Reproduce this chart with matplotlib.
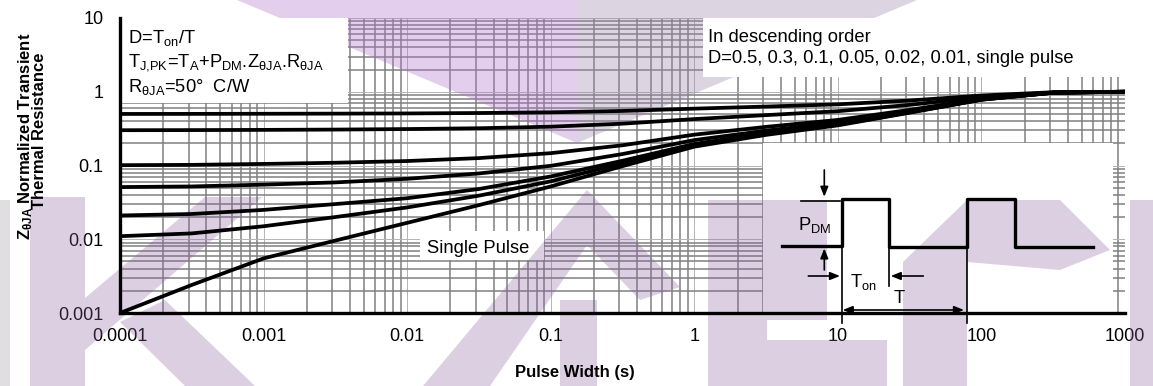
import numpy as np
import matplotlib
matplotlib.use('Agg')
import matplotlib.pyplot as plt
from matplotlib import rc
from matplotlib.patches import Rectangle, Polygon

rc('font', **{'family': 'Liberation Sans', 'size': 13})
rc('mathtext', **{'default': 'regular'})

# pulse width (s), read at half decades
pulse = [1e-4, 3.16e-4, 1e-3, 3.16e-3, 1e-2, 3.16e-2, 0.1, 0.316,
         1, 3.16, 10, 31.6, 100, 316, 1000]

# normalized Z_thJA for each duty cycle
z_d50 = [0.50, 0.501, 0.503, 0.505, 0.508, 0.515, 0.526, 0.549, 0.59, 0.63, 0.675, 0.76, 0.89, 0.985, 1.0]
z_d30 = [0.301, 0.302, 0.304, 0.307, 0.312, 0.320, 0.336, 0.369, 0.426, 0.482, 0.545, 0.664, 0.846, 0.979, 1.0]
z_d10 = [0.101, 0.102, 0.105, 0.109, 0.115, 0.126, 0.147, 0.188, 0.262, 0.334, 0.415, 0.568, 0.80, 0.973, 1.0]
z_d05 = [0.051, 0.052, 0.055, 0.059, 0.066, 0.078, 0.099, 0.143, 0.221, 0.297, 0.383, 0.544, 0.791, 0.972, 1.0]
z_d02 = [0.021, 0.022, 0.025, 0.030, 0.036, 0.048, 0.071, 0.116, 0.196, 0.275, 0.363, 0.530, 0.784, 0.971, 1.0]
z_d01 = [0.011, 0.012, 0.015, 0.020, 0.027, 0.039, 0.061, 0.107, 0.188, 0.267, 0.357, 0.525, 0.782, 0.970, 1.0]
z_single = [0.001, 0.0024, 0.0055, 0.0096, 0.0167, 0.029, 0.052, 0.098, 0.18, 0.26, 0.35, 0.52, 0.78, 0.97, 1.0]

curves = [z_d50, z_d30, z_d10, z_d05, z_d02, z_d01, z_single]

xticks = [1e-4, 1e-3, 1e-2, 0.1, 1, 10, 100, 1000]
xticklabels = ['0.0001', '0.001', '0.01', '0.1', '1', '10', '100', '1000']
yticks = [1e-3, 1e-2, 0.1, 1, 10]
yticklabels = ['0.001', '0.01', '0.1', '1', '10']

W, H = 1153, 386
fig = plt.figure(figsize=(W/100, H/100), dpi=100)
ax = fig.add_axes([120/W, 1-313/H, 1005/W, 295/H])

ax.set_xscale('log')
ax.set_yscale('log')
ax.set_xlim(1e-4, 1000)
ax.set_ylim(1e-3, 10)

for sp in ['top', 'right']:
    ax.spines[sp].set_visible(False)
for sp in ['left', 'bottom']:
    ax.spines[sp].set_linewidth(2.4)
    ax.spines[sp].set_zorder(6)

ax.set_xticks(xticks)
ax.set_xticklabels(xticklabels)
ax.set_yticks(yticks)
ax.set_yticklabels(yticklabels)
ax.set_xticks([m * t for t in xticks[:-1] for m in range(2, 10)], minor=True)
ax.set_yticks([m * t for t in yticks[:-1] for m in range(2, 10)], minor=True)
ax.tick_params(which='both', length=0)
ax.tick_params(axis='x', pad=11)
ax.tick_params(axis='y', pad=12)

ax.grid(which='minor', color='#808080', lw=1.1)
ax.grid(which='major', color='#b4b4b4', lw=0.7)

# white boxes over the grid (the two top ones also hide the watermark)
boxes = [(0.0, 0.712, 0.227, 0.288, 2.0), (0.580, 0.80, 0.42, 0.20, 2.0),
         (0.2985, 0.178, 0.1235, 0.10, 1.6), (0.6398, 0.0, 0.348, 0.576, 1.6)]
for bx, by, bw, bh, zo in boxes:
    ax.add_patch(Rectangle((bx, by), bw, bh, transform=ax.transAxes,
                           facecolor='white', edgecolor='none', zorder=zo))

for z in curves:
    ax.plot(pulse, z, color='k', lw=2.7, zorder=4, solid_capstyle='butt')

T = ax.transAxes
fs = 13.2
ax.text(0.008, 0.916, 'D=T$_{on}$/T', transform=T, fontsize=fs, zorder=5)
ax.text(0.008, 0.835, 'T$_{J{,}PK}$=T$_A$+P$_{DM}$.Z$_{θJA}$.R$_{θJA}$', transform=T, fontsize=fs, zorder=5)
ax.text(0.008, 0.750, 'R$_{θJA}$=50°  C/W', transform=T, fontsize=fs, zorder=5)
ax.text(0.585, 0.920, 'In descending order', transform=T, fontsize=fs, zorder=5)
ax.text(0.585, 0.848, 'D=0.5, 0.3, 0.1, 0.05, 0.02, 0.01, single pulse', transform=T, fontsize=fs, zorder=5)
ax.text(0.3052, 0.204, 'Single Pulse', transform=T, fontsize=fs, zorder=5)

# pulse train sketch
px = [0.6587, 0.7181, 0.7181, 0.7655, 0.7655, 0.8431, 0.8431, 0.8905, 0.8905, 0.9682]
py = [0.2281, 0.2281, 0.3864, 0.3864, 0.2227, 0.2227, 0.3864, 0.3864, 0.2227, 0.2227]
ax.plot(px, py, transform=T, color='k', lw=2.4, zorder=5, clip_on=False)
thin = dict(transform=T, color='k', lw=1.2, zorder=5, clip_on=False)
ax.plot([0.7181, 0.7181], [0.2281, -0.034], **thin)
ax.plot([0.7655, 0.7655], [0.2227, 0.092], **thin)
ax.plot([0.8431, 0.8431], [0.2227, -0.034], **thin)
ax.plot([0.678, 0.716], [0.3807, 0.3807], **thin)

arr = dict(arrowstyle='-|>,head_width=0.18,head_length=0.45', color='k', lw=1.2,
           shrinkA=0, shrinkB=0)
ax.annotate('', xy=(0.7008, 0.394), xytext=(0.7008, 0.485), xycoords=T, arrowprops=arr, zorder=5)
ax.annotate('', xy=(0.7008, 0.219), xytext=(0.7008, 0.146), xycoords=T, arrowprops=arr, zorder=5)
ax.annotate('', xy=(0.7164, 0.1254), xytext=(0.6849, 0.1254), xycoords=T, arrowprops=arr, zorder=5)
ax.annotate('', xy=(0.7669, 0.1254), xytext=(0.7993, 0.1254), xycoords=T, arrowprops=arr, zorder=5)
arr2 = dict(arrowstyle='<|-|>,head_width=0.18,head_length=0.45', color='k', lw=1.2,
            shrinkA=0, shrinkB=0)
ax.annotate('', xy=(0.8398, 0.0102), xytext=(0.7191, 0.0102), xycoords=T, arrowprops=arr2, zorder=5)
ax.text(0.6915, 0.2983, 'P$_{DM}$', transform=T, fontsize=fs, ha='center', va='center', zorder=5)
ax.text(0.7393, 0.106, 'T$_{on}$', transform=T, fontsize=fs, ha='center', va='center', zorder=5)
ax.text(0.7755, 0.0497, 'T', transform=T, fontsize=fs, ha='center', va='center', zorder=5)

fig.text(575/W, 1-373/H, 'Pulse Width (s)', fontsize=12, fontweight='bold', ha='center', va='center')
fig.text(30/W, 1-136.5/H, 'Z$_{θJA}$ Normalized Transient', fontsize=12, fontweight='bold',
         rotation=90, rotation_mode='anchor', ha='center', va='baseline')
fig.text(44.5/W, 1-131/H, 'Thermal Resistance', fontsize=12, fontweight='bold',
         rotation=90, rotation_mode='anchor', ha='center', va='baseline')

# faint logo watermark (figure pixels), under the top boxes, over the grid
def wm(pts, color, alpha=0.35):
    ax.add_patch(Polygon([(x/W, 1-y/H) for x, y in pts], closed=True,
                         transform=fig.transFigure, facecolor=color, edgecolor='none',
                         alpha=alpha, zorder=1.8, clip_on=False))

mauve = (0.56, 0.38, 0.63)
wm([(237, 0), (577, 0), (577, 143)], (0.70, 0.45, 0.80))
wm([(577, 0), (917, 0), (577, 143)], (0.62, 0.52, 0.68))
wm([(0, 200), (10, 200), (10, 386), (0, 386)], (0.6, 0.58, 0.62), 0.3)
wm([(30, 197), (85, 197), (85, 386), (30, 386)], mauve, 0.3)
wm([(85, 298), (205, 197), (262, 197), (85, 350)], mauve, 0.3)
wm([(120, 322), (165, 300), (255, 386), (185, 386)], mauve, 0.3)
wm([(423, 386), (587, 190), (680, 287), (640, 300), (587, 245), (490, 386)], mauve, 0.3)
wm([(560, 300), (597, 300), (597, 386), (560, 386)], mauve, 0.3)
wm([(708, 200), (827, 200), (827, 320), (767, 320), (767, 340), (887, 340),
    (887, 386), (708, 386)], mauve, 0.3)
wm([(903, 386), (903, 262), (967, 200), (1060, 200), (1110, 250), (1060, 270),
    (967, 262), (967, 386)], mauve, 0.3)
wm([(1130, 200), (1153, 200), (1153, 386), (1130, 386)], mauve, 0.3)

fig.savefig('out.png', dpi=100)
